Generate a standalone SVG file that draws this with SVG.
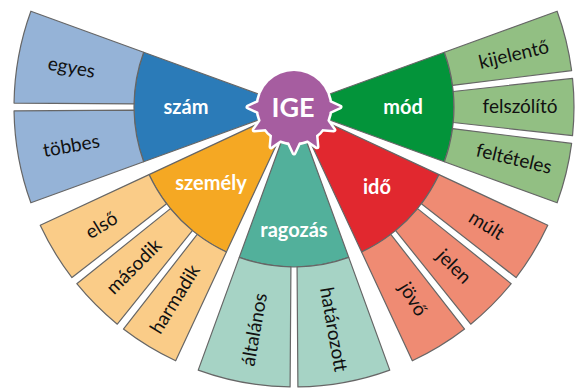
<svg xmlns="http://www.w3.org/2000/svg" xmlns:xlink="http://www.w3.org/1999/xlink" width="576" height="388" viewBox="0 0 576 388">
<style>
  .seg { stroke: #666666; stroke-width: 1.2; stroke-linejoin: round; }
  .main { font-family: Lato, "Open Sans", "Liberation Sans", sans-serif; font-weight: bold; font-size: 20px; fill: #ffffff; text-anchor: middle; }
  .sub { font-family: Lato, "Open Sans", "Liberation Sans", sans-serif; font-size: 19px; fill: #111111; text-anchor: middle; }
  .ige { font-family: Lato, "Open Sans", "Liberation Sans", sans-serif; font-weight: bold; font-size: 27px; fill: #ffffff; text-anchor: middle; }
</style>
<defs>
  <polygon id="spike" points="326.4,100.7 340,107 326.4,113.3"/>
</defs>
<rect width="576" height="388" fill="#ffffff"/>

<g id="szam">
  <path class="seg" fill="#2B7BB8" d="M 294 107 L 143.65 161.72 A 160 160 0 0 1 143.65 52.28 Z"/>
  <text class="main" x="186" y="114">szám</text>
</g>
<g id="egyes">
  <path class="seg" fill="#95B3D7" d="M 143.65 52.28 L 30.89 11.23 A 280 280 0 0 0 14.03 103.09 L 134.03 103.93 A 160 160 0 0 1 143.65 52.28 Z"/>
  <text class="sub" transform="translate(71.43 67.76) rotate(10)" y="6">egyes</text>
</g>
<g id="tobbes">
  <path class="seg" fill="#95B3D7" d="M 134.03 110.07 L 14.03 110.91 A 280 280 0 0 0 30.89 202.77 L 143.65 161.72 A 160 160 0 0 1 134.03 110.07 Z"/>
  <text class="sub" transform="translate(71.43 146.24) rotate(-10)" y="6">többes</text>
</g>

<g id="szemely">
  <path class="seg" fill="#F5A823" d="M 294 107 L 226.38 252.01 A 160 160 0 0 1 148.99 174.62 Z"/>
  <text class="main" x="211" y="190">személy</text>
</g>
<g id="elso">
  <path class="seg" fill="#FACC88" d="M 148.99 174.62 L 40.23 225.33 A 280 280 0 0 0 71.96 277.58 L 166.61 203.81 A 160 160 0 0 1 148.99 174.62 Z"/>
  <text class="sub" transform="translate(101.65 225.65) rotate(-31.667)" y="6">első</text>
</g>
<g id="masodik">
  <path class="seg" fill="#FACC88" d="M 170.42 208.63 L 76.81 283.71 A 280 280 0 0 0 117.29 324.19 L 192.37 230.58 A 160 160 0 0 1 170.42 208.63 Z"/>
  <text class="sub" transform="translate(134.19 266.81) rotate(-45)" y="6">második</text>
</g>
<g id="harmadik">
  <path class="seg" fill="#FACC88" d="M 197.19 234.39 L 123.42 329.04 A 280 280 0 0 0 175.67 360.77 L 226.38 252.01 A 160 160 0 0 1 197.19 234.39 Z"/>
  <text class="sub" transform="translate(175.35 299.35) rotate(-58.333)" y="6">harmadik</text>
</g>

<g id="ragozas">
  <path class="seg" fill="#52B09B" d="M 294 107 L 348.72 257.35 A 160 160 0 0 1 239.28 257.35 Z"/>
  <text class="main" x="294" y="237">ragozás</text>
</g>
<g id="altalanos">
  <path class="seg" fill="#A6D3C5" d="M 290.93 266.97 L 290.09 386.97 A 280 280 0 0 1 198.23 370.11 L 239.28 257.35 A 160 160 0 0 0 290.93 266.97 Z"/>
  <text class="sub" transform="translate(254.76 329.57) rotate(-80)" y="6">általános</text>
</g>
<g id="hatarozott">
  <path class="seg" fill="#A6D3C5" d="M 348.72 257.35 L 389.77 370.11 A 280 280 0 0 1 297.91 386.97 L 297.07 266.97 A 160 160 0 0 0 348.72 257.35 Z"/>
  <text class="sub" transform="translate(333.24 329.57) rotate(80)" y="6">határozott</text>
</g>

<g id="ido">
  <path class="seg" fill="#E1282F" d="M 294 107 L 439.01 174.62 A 160 160 0 0 1 361.62 252.01 Z"/>
  <text class="main" x="377" y="194">idő</text>
</g>
<g id="mult">
  <path class="seg" fill="#EF8B73" d="M 439.01 174.62 L 547.77 225.33 A 280 280 0 0 1 516.04 277.58 L 421.39 203.81 A 160 160 0 0 0 439.01 174.62 Z"/>
  <text class="sub" transform="translate(486.35 225.65) rotate(31.667)" y="6">múlt</text>
</g>
<g id="jelen">
  <path class="seg" fill="#EF8B73" d="M 417.58 208.63 L 511.19 283.71 A 280 280 0 0 1 470.71 324.19 L 395.63 230.58 A 160 160 0 0 0 417.58 208.63 Z"/>
  <text class="sub" transform="translate(453.81 266.81) rotate(45)" y="6">jelen</text>
</g>
<g id="jovo">
  <path class="seg" fill="#EF8B73" d="M 390.81 234.39 L 464.58 329.04 A 280 280 0 0 1 412.33 360.77 L 361.62 252.01 A 160 160 0 0 0 390.81 234.39 Z"/>
  <text class="sub" transform="translate(412.65 299.35) rotate(58.333)" y="6">jövő</text>
</g>

<g id="mod">
  <path class="seg" fill="#03943A" d="M 294 107 L 444.35 52.28 A 160 160 0 0 1 444.35 161.72 Z"/>
  <text class="main" x="403" y="114">mód</text>
</g>
<g id="kijelento">
  <path class="seg" fill="#92BF83" d="M 444.35 52.28 L 557.11 11.23 A 280 280 0 0 1 571.63 70.61 L 452.53 85.38 A 160 160 0 0 0 444.35 52.28 Z"/>
  <text class="sub" transform="translate(513.91 54.88) rotate(-13.333)" y="6">kijelentő</text>
</g>
<g id="felszolito">
  <path class="seg" fill="#92BF83" d="M 453.24 91.48 L 572.53 78.38 A 280 280 0 0 1 572.53 135.62 L 453.24 122.52 A 160 160 0 0 0 453.24 91.48 Z"/>
  <text class="sub" transform="translate(520 107)" y="6">felszólító</text>
</g>
<g id="felteteles">
  <path class="seg" fill="#92BF83" d="M 452.53 128.62 L 571.63 143.39 A 280 280 0 0 1 557.11 202.77 L 444.35 161.72 A 160 160 0 0 0 452.53 128.62 Z"/>
  <text class="sub" transform="translate(513.91 159.12) rotate(13.333)" y="6">feltételes</text>
</g>

<g id="ige">
  <g fill="#A65DA0" stroke="#ffffff" stroke-width="5" stroke-linejoin="round">
    <use xlink:href="#spike"/>
    <use xlink:href="#spike" transform="rotate(30 294 107)"/>
    <use xlink:href="#spike" transform="rotate(60 294 107)"/>
    <use xlink:href="#spike" transform="rotate(90 294 107)"/>
    <use xlink:href="#spike" transform="rotate(120 294 107)"/>
    <use xlink:href="#spike" transform="rotate(150 294 107)"/>
    <use xlink:href="#spike" transform="rotate(180 294 107)"/>
    <circle cx="294" cy="107" r="36"/>
  </g>
  <g fill="#A65DA0">
    <use xlink:href="#spike"/>
    <use xlink:href="#spike" transform="rotate(30 294 107)"/>
    <use xlink:href="#spike" transform="rotate(60 294 107)"/>
    <use xlink:href="#spike" transform="rotate(90 294 107)"/>
    <use xlink:href="#spike" transform="rotate(120 294 107)"/>
    <use xlink:href="#spike" transform="rotate(150 294 107)"/>
    <use xlink:href="#spike" transform="rotate(180 294 107)"/>
    <circle cx="294" cy="107" r="36"/>
  </g>
  <text class="ige" x="293" y="117">IGE</text>
</g>
</svg>
